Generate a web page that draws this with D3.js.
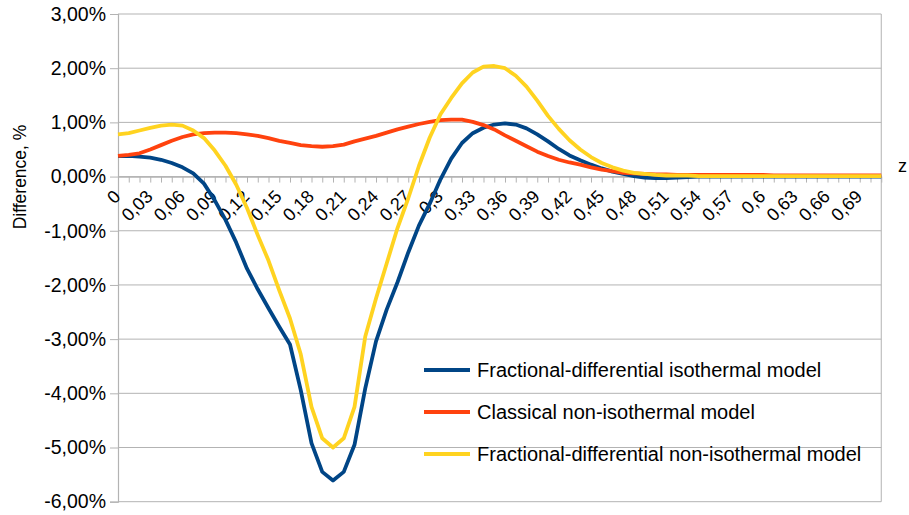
<!DOCTYPE html>
<html><head><meta charset="utf-8">
<script src="https://cdn.jsdelivr.net/npm/d3@7"></script>
<style>
html,body{margin:0;padding:0;background:#fff;overflow:hidden}
text{font-family:"Liberation Sans",Arial,sans-serif;fill:#000}
</style></head>
<body><svg id="c" width="909" height="515"></svg>
<script>
const categories = [0,0.01,0.02,0.03,0.04,0.05,0.06,0.07,0.08,0.09,0.1,0.11,0.12,0.13,0.14,0.15,0.16,0.17,0.18,0.19,0.2,0.21,0.22,0.23,0.24,0.25,0.26,0.27,0.28,0.29,0.3,0.31,0.32,0.33,0.34,0.35,0.36,0.37,0.38,0.39,0.4,0.41,0.42,0.43,0.44,0.45,0.46,0.47,0.48,0.49,0.5,0.51,0.52,0.53,0.54,0.55,0.56,0.57,0.58,0.59,0.6,0.61,0.62,0.63,0.64,0.65,0.66,0.67,0.68,0.69,0.7,0.71];
const seriesNames = ["Fractional-differential isothermal model","Classical non-isothermal model","Fractional-differential non-isothermal model"];
const fracIso = [0.38,0.38,0.37,0.35,0.31,0.25,0.17,0.06,-0.13,-0.44,-0.80,-1.22,-1.70,-2.08,-2.43,-2.77,-3.1,-3.94,-4.92,-5.45,-5.61,-5.45,-4.95,-3.91,-3.04,-2.45,-1.95,-1.4,-0.9,-0.5,-0.05,0.33,0.62,0.80,0.90,0.96,0.98,0.96,0.89,0.78,0.65,0.51,0.39,0.30,0.22,0.15,0.09,0.05,0.01,-0.02,-0.03,-0.03,-0.02,-0.01,0,0,0,0,0,0,0,0,0,0,0,0,0,0,0,0,0,0];
const classicNonIso = [0.38,0.40,0.43,0.50,0.58,0.66,0.73,0.78,0.80,0.81,0.81,0.80,0.78,0.75,0.71,0.66,0.62,0.58,0.56,0.55,0.56,0.59,0.65,0.70,0.75,0.81,0.87,0.92,0.97,1.01,1.04,1.05,1.05,1.01,0.95,0.87,0.76,0.66,0.56,0.46,0.38,0.31,0.26,0.22,0.17,0.13,0.10,0.07,0.06,0.05,0.04,0.04,0.03,0.03,0.03,0.03,0.03,0.03,0.03,0.03,0.03,0.02,0.02,0.02,0.02,0.02,0.02,0.02,0.02,0.02,0.02,0.02];
const fracNonIso = [0.78,0.80,0.85,0.90,0.94,0.96,0.94,0.85,0.71,0.48,0.20,-0.15,-0.58,-1.08,-1.55,-2.1,-2.62,-3.28,-4.25,-4.83,-5.0,-4.83,-4.25,-2.95,-2.25,-1.6,-0.95,-0.4,0.2,0.72,1.15,1.45,1.72,1.92,2.03,2.04,2.0,1.86,1.66,1.40,1.12,0.88,0.67,0.50,0.36,0.25,0.17,0.11,0.07,0.05,0.03,0.02,0.02,0.02,0.01,0.01,0.01,0.01,0.01,0.01,0.01,0.01,0.01,0.01,0.01,0.01,0.01,0.01,0.01,0.01,0.01,0.01];
const yTicks = [-6,-5,-4,-3,-2,-1,0,1,2,3];
const colors = ["#004586","#ff420e","#ffd320"];

const svg = d3.select("#c");
const L = 118, R = 881.25, T = 14, B = 501.7;
const x = d3.scalePoint().domain(categories).range([L, R]);
const y = d3.scaleLinear().domain([-6, 3]).range([B, T]);
const grid = "#b3b3b3";

// gridlines
svg.append("g").selectAll("line").data(yTicks).join("line")
  .attr("x1", L).attr("x2", R).attr("y1", d => y(d)).attr("y2", d => y(d))
  .attr("stroke", grid).attr("stroke-width", 1);
// right border
svg.append("line").attr("x1", R).attr("x2", R).attr("y1", T).attr("y2", B).attr("stroke", grid);

// y axis
const fmtY = d => d.toFixed(2).replace(".", ",") + "%";
const ya = svg.append("g").attr("transform", `translate(${L},0)`)
  .call(d3.axisLeft(y).tickValues(yTicks).tickFormat(fmtY).tickSize(8).tickPadding(4));
ya.select(".domain").attr("stroke", grid).attr("stroke-width", 1.2);
ya.selectAll(".tick line").attr("stroke", grid);
ya.selectAll(".tick text").style("font-size", "19.5px").attr("font-family", null);

// x axis at 0
const fmtX = (d, i) => (i % 3 === 0) ? String(+d.toFixed(2)).replace(".", ",") : "";
const xa = svg.append("g").attr("transform", `translate(0,${y(0)})`)
  .call(d3.axisBottom(x).tickFormat(fmtX).tickSize(6).tickSizeOuter(0));
xa.select(".domain").attr("stroke", grid).attr("stroke-width", 1.2);
xa.selectAll(".tick line").attr("stroke", grid);
xa.selectAll(".tick text").style("font-size", "18px").attr("font-family", null)
  .attr("text-anchor", "end").attr("dy", null).attr("y", null)
  .attr("transform", "translate(3,21) rotate(-45)");

// lines
const line = d3.line().x((d, i) => x(categories[i])).y(d => y(d)).curve(d3.curveLinear);
[fracIso, classicNonIso, fracNonIso].forEach((s, k) => {
  svg.append("path").datum(s).attr("d", line).attr("fill", "none")
    .attr("stroke", colors[k]).attr("stroke-width", 3.8).attr("stroke-linejoin", "round");
});

// axis titles
svg.append("text").attr("transform", "translate(26,177) rotate(-90)")
  .attr("text-anchor", "middle").style("font-size", "17.5px").text("Difference, %");
svg.append("text").attr("x", 898).attr("y", 172).style("font-size", "18px").text("z");

// legend
const lg = svg.append("g");
seriesNames.forEach((n, k) => {
  const ly = 370 + k * 42;
  lg.append("line").attr("x1", 424).attr("x2", 470).attr("y1", ly).attr("y2", ly)
    .attr("stroke", colors[k]).attr("stroke-width", 4);
  lg.append("text").attr("x", 477).attr("y", ly).attr("dy", "0.35em")
    .style("font-size", "20px").text(n);
});
</script></body></html>
